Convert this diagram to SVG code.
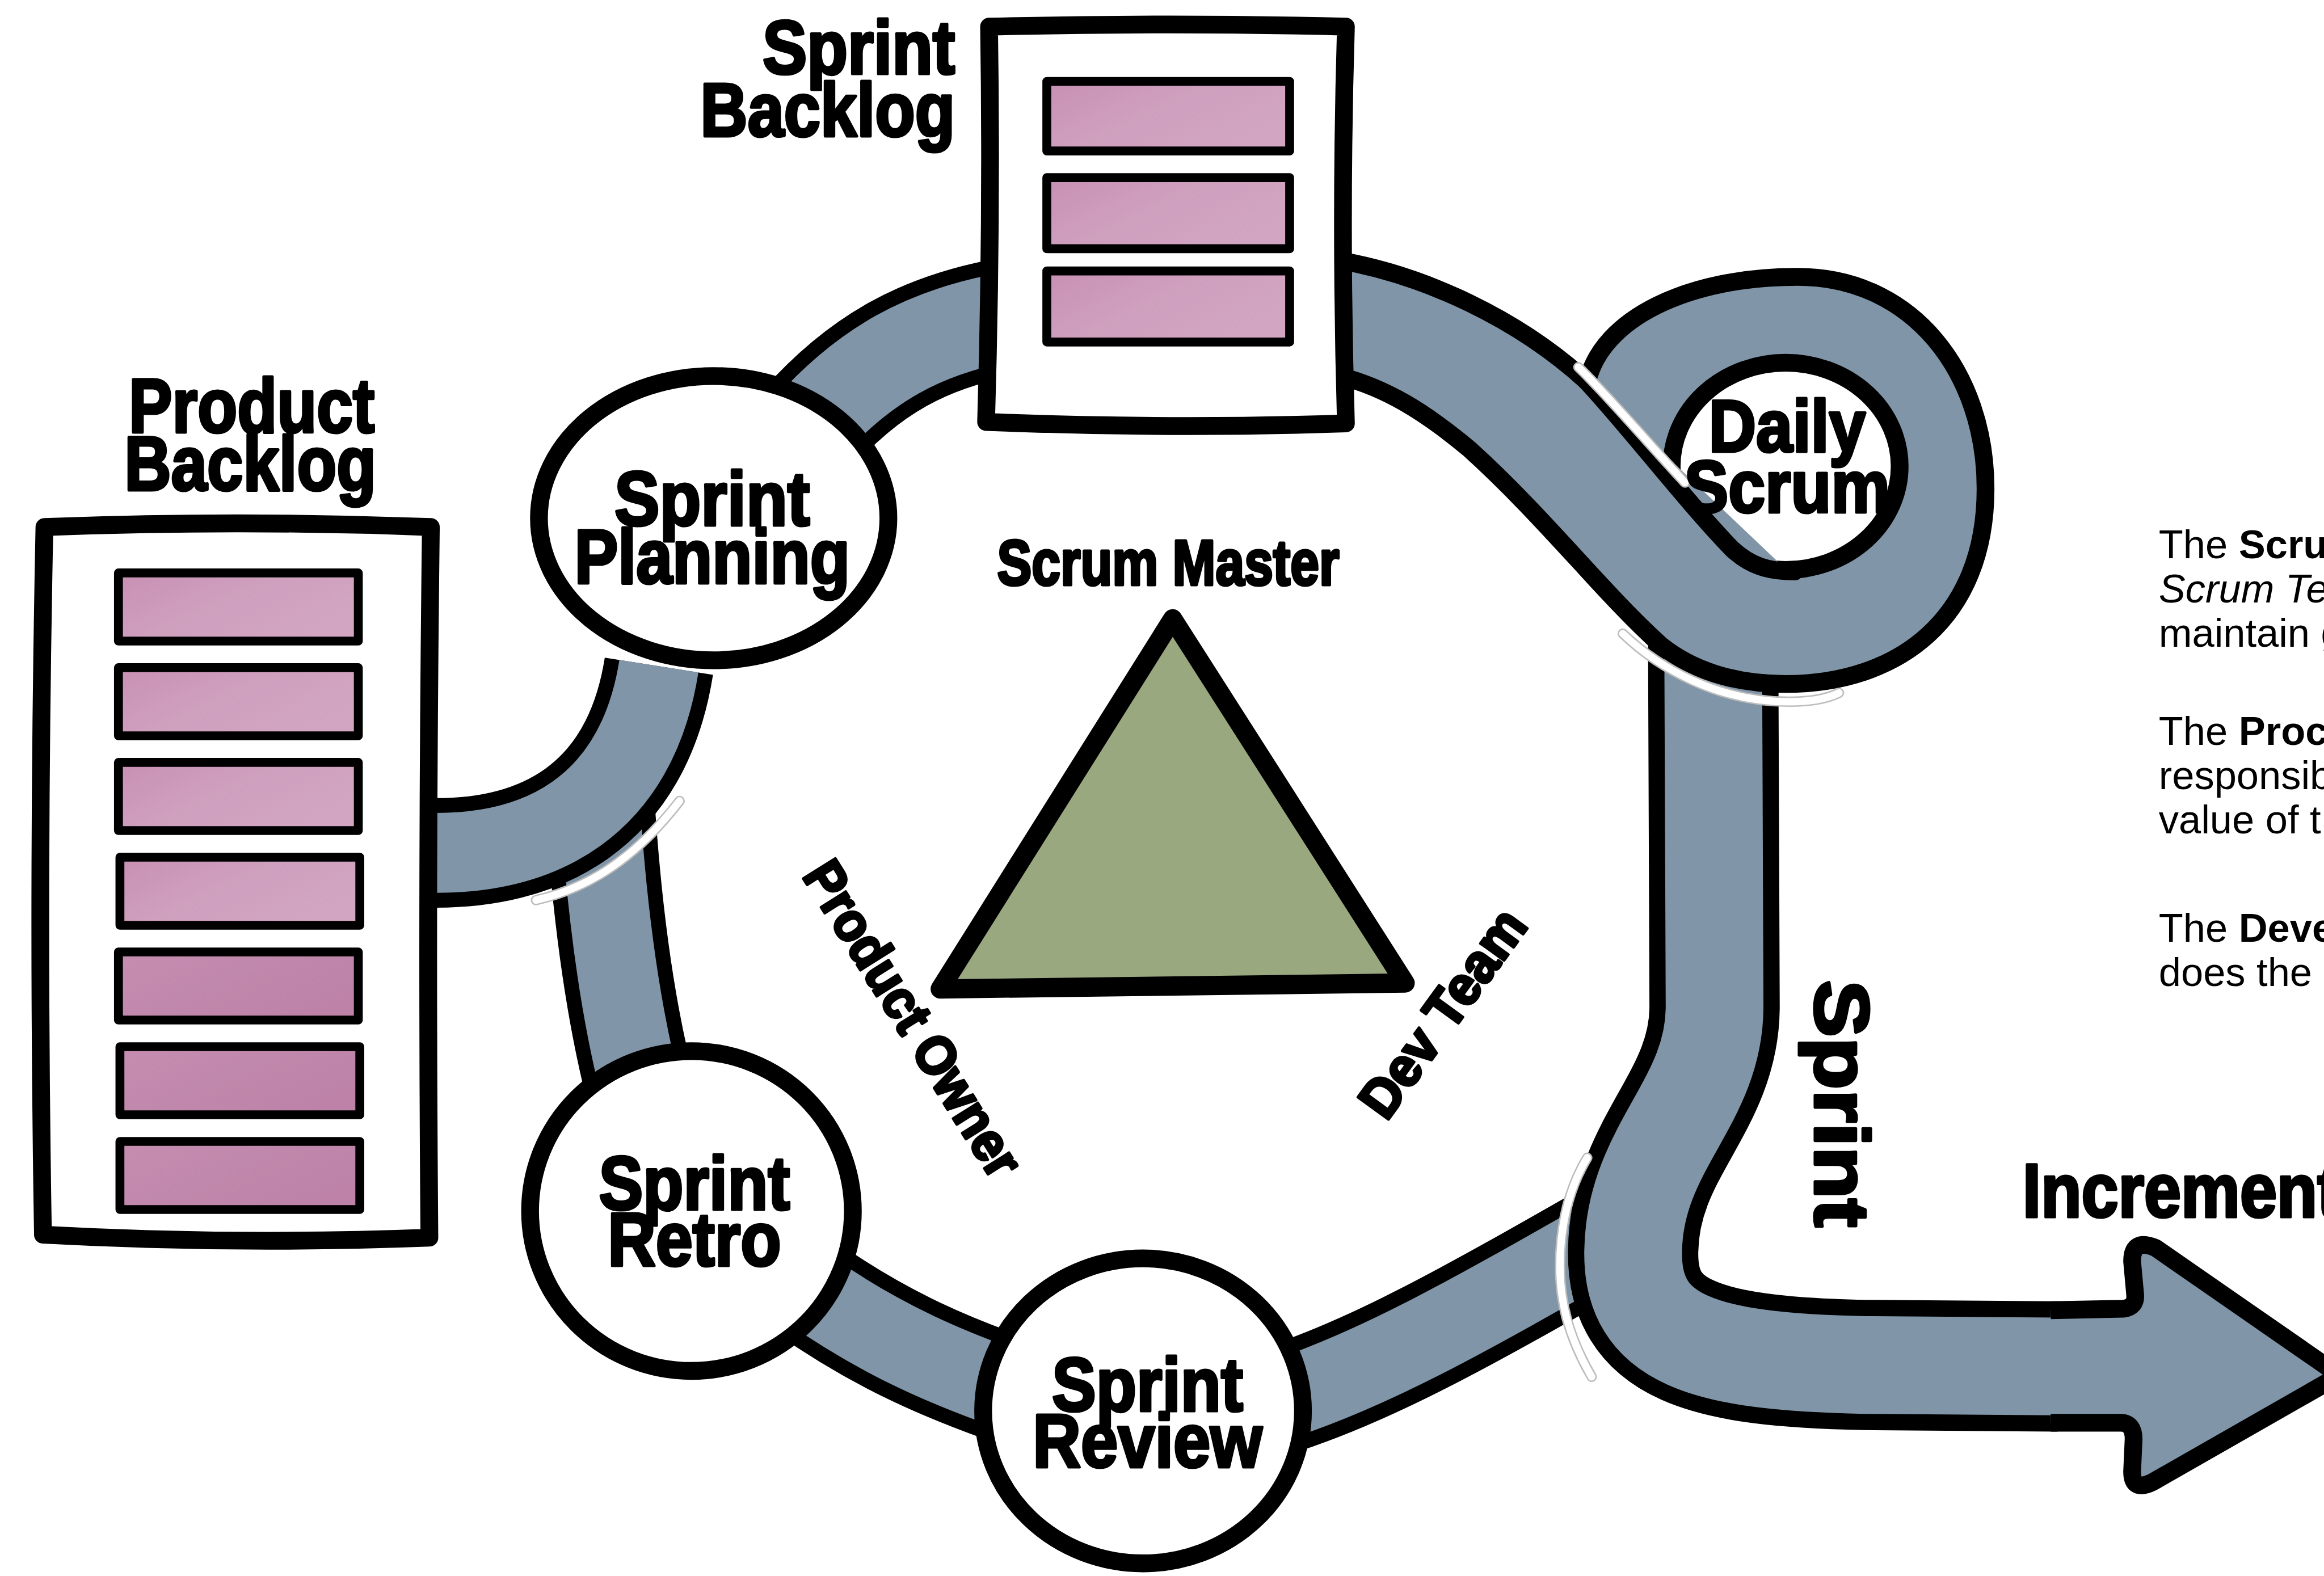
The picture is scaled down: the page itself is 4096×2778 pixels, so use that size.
<svg xmlns="http://www.w3.org/2000/svg" width="4096" height="2778" viewBox="0 0 4096 2778">
<defs>
<linearGradient id="pk" x1="0" y1="0" x2="1" y2="0.6">
<stop offset="0" stop-color="#c890b4"/>
<stop offset="0.5" stop-color="#cf9fbe"/>
<stop offset="1" stop-color="#d2a6c2"/>
</linearGradient>
<linearGradient id="pk2" x1="0" y1="0" x2="1" y2="0.6">
<stop offset="0" stop-color="#c68db1"/>
<stop offset="0.5" stop-color="#c088ac"/>
<stop offset="1" stop-color="#be82a8"/>
</linearGradient>
<style>
.ro{fill:none;stroke:#000;stroke-linecap:butt;stroke-linejoin:round}
.ri{fill:none;stroke:#8096a8;stroke-linecap:butt;stroke-linejoin:round}
.node{fill:#fff;stroke:#000;stroke-width:12;stroke-linejoin:round}
.bar{stroke:#000;stroke-width:6;stroke-linejoin:round}
.bar1{fill:url(#pk)}
.bar2{fill:url(#pk2)}
.hv{font-family:"Liberation Sans",Arial,sans-serif;font-weight:bold;fill:#000;stroke:#000;stroke-width:2;stroke-linejoin:round}
.cg{fill:none;stroke:#bdbdbd;stroke-width:7;stroke-linecap:round}
.cw{fill:none;stroke:#fff;stroke-width:5;stroke-linecap:round}
.body{font-family:"Liberation Sans",Arial,sans-serif;font-size:27px;fill:#000}
</style>
</defs>
<rect width="4096" height="2778" fill="#fff"/>
<g transform="scale(2.6096)">
<g id="connectors">
<!-- Review -> cycle -->
<path class="ro" stroke-width="74" d="M 850 950 C 920 930, 990 890, 1095 830"/>
<path class="ri" stroke-width="54" d="M 850 950 C 920 930, 990 890, 1095 830"/>
<!-- Daily scrum down to increment -->
<path class="ro" stroke-width="88" d="M 1157 420 L 1158 680 C 1158 745, 1104 775, 1103 845 C 1102 905, 1150 920, 1260 922 L 1390 923"/>
<path class="ri" stroke-width="66" d="M 1157 420 L 1158 680 C 1158 745, 1104 775, 1103 845 C 1102 905, 1150 920, 1260 922 L 1390 923"/>
<!-- arrow head -->
<path fill="#8096a8" stroke="#000" stroke-width="12" stroke-linejoin="round" d="M 1385 885 L 1434 884 Q 1443 883 1442 874 L 1440 852 Q 1440 836 1456 843 L 1580 929 L 1454 1001 Q 1440 1008 1440 994 L 1441 972 Q 1441 961 1432 961 L 1385 961"/>
<!-- sprint backlog -> daily scrum loop -->
<path fill="#8096a8" stroke="#000" stroke-width="12" stroke-linejoin="round" d="M 905 176 C 962 186, 1025 215, 1072 258 C 1082 215, 1140 187, 1214 187 C 1292 187, 1341 252, 1341 330 C 1341 418, 1282 462, 1206 462 C 1170 462, 1142 452, 1122 436 C 1082 400, 1044 350, 992 303 C 962 278, 936 262, 905 254 Z"/>
<!-- cuts -->
<path class="cg" d="M 1096 428 C 1120 451, 1160 474, 1208 474 C 1222 474, 1234 472, 1242 468"/>
<path class="cw" d="M 1096 428 C 1120 451, 1160 474, 1208 474 C 1222 474, 1234 472, 1242 468"/>
<path class="cg" d="M 1072 782 C 1052 815, 1050 860, 1058 890 C 1062 905, 1068 918, 1075 930"/>
<path class="cw" d="M 1072 782 C 1052 815, 1050 860, 1058 890 C 1062 905, 1068 918, 1075 930"/>
<!-- Planning -> Retro -->
<path class="ro" stroke-width="74" d="M 405 540 C 410 620, 420 690, 435 745"/>
<path class="ri" stroke-width="54" d="M 405 540 C 410 620, 420 690, 435 745"/>
<!-- Product backlog -> Planning -->
<path class="ro" stroke-width="74" d="M 288 576 C 365 578, 430 545, 445 450"/>
<path class="ri" stroke-width="54" d="M 288 576 C 365 578, 430 545, 445 450"/>
<path class="cg" d="M 362 608 C 392 601, 425 585, 459 541"/>
<path class="cw" d="M 362 608 C 392 601, 425 585, 459 541"/>
<!-- Planning -> Sprint backlog -->
<path class="ro" stroke-width="80" d="M 545 290 C 585 245, 625 225, 675 215"/>
<path class="ri" stroke-width="60" d="M 545 290 C 585 245, 625 225, 675 215"/>
<!-- Retro -> Review -->
<path class="ro" stroke-width="74" d="M 545 870 C 595 905, 640 925, 700 945"/>
<path class="ri" stroke-width="54" d="M 545 870 C 595 905, 640 925, 700 945"/>
</g>

<g id="product-backlog">
<path class="node" d="M 30 356 Q 160 351 291 356 Q 288 600 290 836 Q 160 841 29 834 Q 25 600 30 356 Z"/>
<rect class="bar bar1" x="80" y="387" width="162" height="46"/>
<rect class="bar bar1" x="80" y="451" width="162" height="46"/>
<rect class="bar bar1" x="80" y="515" width="162" height="46"/>
<rect class="bar bar1" x="81" y="579" width="162" height="46"/>
<rect class="bar bar2" x="80" y="643" width="162" height="46"/>
<rect class="bar bar2" x="81" y="707" width="162" height="46"/>
<rect class="bar bar2" x="81" y="771" width="162" height="46"/>
<text class="hv" x="170" y="292" font-size="52" text-anchor="middle" textLength="166" lengthAdjust="spacingAndGlyphs" stroke-width="3">Product</text>
<text class="hv" x="169" y="331" font-size="52" text-anchor="middle" textLength="170" lengthAdjust="spacingAndGlyphs" stroke-width="3">Backlog</text>
</g>

<g id="sprint-backlog">
<path class="node" d="M 668 18 Q 790 15 909 18 Q 905 150 909 286 Q 790 290 666 285 Q 670 150 668 18 Z"/>
<rect class="bar bar1" x="707" y="55" width="164" height="47"/>
<rect class="bar bar1" x="707" y="120" width="164" height="48"/>
<rect class="bar bar1" x="707" y="183" width="164" height="48"/>
<text class="hv" x="645" y="50" font-size="51" text-anchor="end" textLength="130" lengthAdjust="spacingAndGlyphs">Sprint</text>
<text class="hv" x="645" y="92" font-size="51" text-anchor="end" textLength="172" lengthAdjust="spacingAndGlyphs">Backlog</text>
</g>

<g id="sprint-planning">
<ellipse class="node" cx="482" cy="350" rx="118" ry="96"/>
<text class="hv" x="481" y="355" font-size="52" text-anchor="middle" textLength="132" lengthAdjust="spacingAndGlyphs">Sprint</text>
<text class="hv" x="481" y="394" font-size="52" text-anchor="middle" textLength="186" lengthAdjust="spacingAndGlyphs">Planning</text>
</g>

<g id="daily-scrum">
<ellipse class="node" cx="1206" cy="315" rx="77" ry="70"/>
<path fill="#8096a8" d="M 1098 282 L 1214 392 L 1214 402 L 1110 402 L 1098 385 Z"/>
<path fill="none" stroke="#000" stroke-width="12" stroke-linecap="round" d="M 1070 256 C 1100 288, 1138 338, 1170 371 C 1182 382, 1194 386, 1212 386"/>
<path class="cg" d="M 1066 248 C 1085 266, 1110 296, 1138 326"/>
<path class="cw" d="M 1066 248 C 1085 266, 1110 296, 1138 326"/>
<text class="hv" x="1207" y="305" font-size="50" text-anchor="middle" textLength="106" lengthAdjust="spacingAndGlyphs">Daily</text>
<text class="hv" x="1207" y="346" font-size="50" text-anchor="middle" textLength="139" lengthAdjust="spacingAndGlyphs">Scrum</text>
</g>

<g id="sprint-retro">
<ellipse class="node" cx="467" cy="818" rx="109" ry="108"/>
<text class="hv" x="469" y="817" font-size="51" text-anchor="middle" textLength="129" lengthAdjust="spacingAndGlyphs">Sprint</text>
<text class="hv" x="469" y="855" font-size="51" text-anchor="middle" textLength="117" lengthAdjust="spacingAndGlyphs">Retro</text>
</g>

<g id="sprint-review">
<ellipse class="node" cx="772" cy="953" rx="108" ry="103"/>
<text class="hv" x="775" y="953" font-size="51" text-anchor="middle" textLength="129" lengthAdjust="spacingAndGlyphs">Sprint</text>
<text class="hv" x="775" y="991" font-size="51" text-anchor="middle" textLength="155" lengthAdjust="spacingAndGlyphs">Review</text>
</g>

<g id="scrum-team">
<path d="M 792 418 L 949 664 L 635 668 Z" fill="#9aa880" stroke="#000" stroke-width="13" stroke-linejoin="round"/>
<text class="hv" x="789" y="395" font-size="43" text-anchor="middle" textLength="231" lengthAdjust="spacingAndGlyphs" stroke-width="1.6">Scrum Master</text>
<text class="hv" transform="translate(617,688) rotate(58)" x="0" y="13" font-size="37" text-anchor="middle" textLength="244" lengthAdjust="spacingAndGlyphs" stroke-width="1.4">Product Owner</text>
<text class="hv" transform="translate(974,684) rotate(-54)" x="0" y="13" font-size="37" text-anchor="middle" textLength="164" lengthAdjust="spacingAndGlyphs" stroke-width="1.4">Dev Team</text>
</g>

<g id="sprint-label">
<text class="hv" transform="translate(1226,662) rotate(90)" x="0" y="0" font-size="52" textLength="167" lengthAdjust="spacingAndGlyphs">Sprint</text>
</g>

<g id="increment">
<text class="hv" x="1366" y="822" font-size="51" textLength="214" lengthAdjust="spacingAndGlyphs">Increment</text>
</g>

<g id="roles-text">
<text class="body" x="1458" y="377">The <tspan font-weight="bold">Scru</tspan></text>
<text class="body" x="1458" y="407" font-style="italic">Scrum Te</text>
<text class="body" x="1458" y="437">maintain g</text>
<text class="body" x="1458" y="503">The <tspan font-weight="bold">Proc</tspan></text>
<text class="body" x="1458" y="533">responsib</text>
<text class="body" x="1458" y="563">value of t</text>
<text class="body" x="1458" y="636">The <tspan font-weight="bold">Deve</tspan></text>
<text class="body" x="1458" y="666">does the</text>
</g>
</g>
</svg>
